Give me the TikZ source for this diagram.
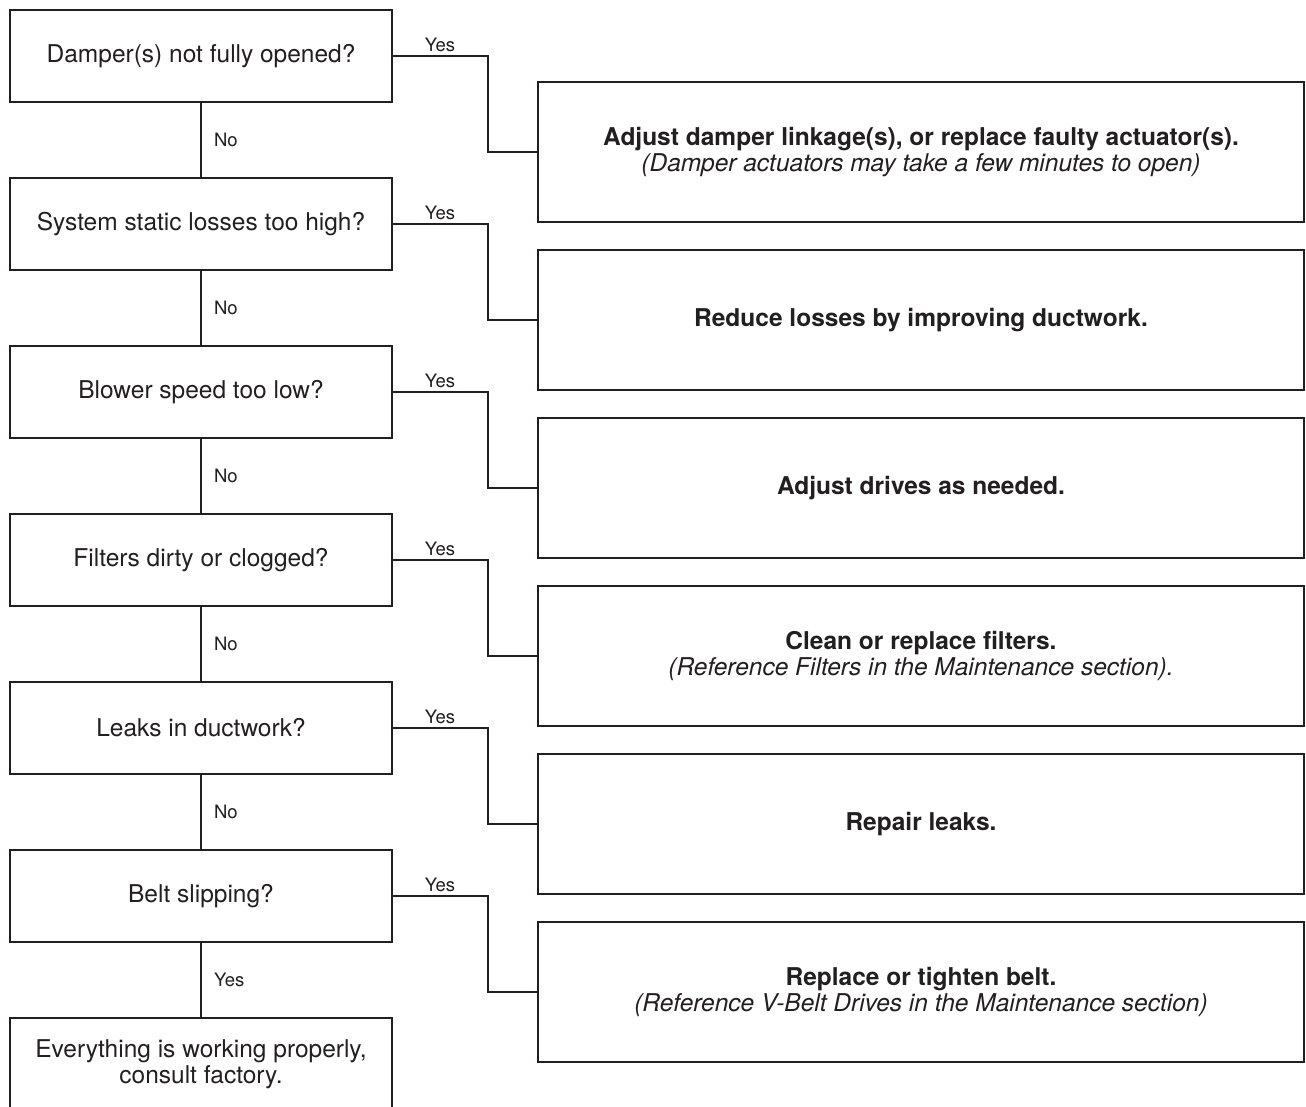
\documentclass[tikz,border=0pt]{standalone}
\usepackage{fontspec}
\setmainfont{TeX Gyre Heros}
\usepackage{tikz}
\usetikzlibrary{positioning}
\definecolor{ink}{HTML}{231F20}

\begin{document}
\begin{tikzpicture}[node distance=75.5pt, line width=2.2pt, draw=ink, text=ink,
    qbox/.style={rectangle, draw=ink, fill=white, line width=2.2pt, minimum width=382pt, minimum height=92.5pt,
      outer sep=0pt, align=center, inner sep=0pt, font=\fontsize{24.5}{26.5}\selectfont},
    abox/.style={rectangle, draw=ink, fill=white, line width=2.2pt, minimum width=766pt, minimum height=140pt,
      outer sep=0pt, align=center, inner sep=0pt, font=\fontsize{24.5}{26.5}\selectfont},
    lbl/.style={font=\fontsize{18.5}{20}\selectfont, inner sep=3pt, text=ink}]

    \useasboundingbox[fill=white] (0,0) rectangle (1306pt,-1107pt);

    % Define question nodes
    \node[qbox] (damper) at (201pt,-56pt) {Damper(s) not fully opened?};
    \node[qbox, below=of damper] (static) {System static losses too high?};
    \node[qbox, below=of static] (blower) {Blower speed too low?};
    \node[qbox, below=of blower] (filters) {Filters dirty or clogged?};
    \node[qbox, below=of filters] (leaks) {Leaks in ductwork?};
    \node[qbox, below=of leaks] (belt) {Belt slipping?};
    \node[qbox, below=of belt] (factory) {Everything is working properly,\\ consult factory.};

    % Define remedy nodes
    \node[abox, below right=26pt and 146pt of damper.east] (fixDamper)
      {\textbf{Adjust damper linkage(s), or replace faulty actuator(s).}\\ \textit{(Damper actuators may take a few minutes to open)}};
    \node[abox, below right=26pt and 146pt of static.east] (fixDuct)
      {\textbf{Reduce losses by improving ductwork.}};
    \node[abox, below right=26pt and 146pt of blower.east] (fixDrive)
      {\textbf{Adjust drives as needed.}};
    \node[abox, below right=26pt and 146pt of filters.east] (fixFilter)
      {\textbf{Clean or replace filters.}\\ \textit{(Reference Filters in the Maintenance section).}};
    \node[abox, below right=26pt and 146pt of leaks.east] (fixLeak)
      {\textbf{Repair leaks.}};
    \node[abox, below right=26pt and 146pt of belt.east] (fixBelt)
      {\textbf{Replace or tighten belt.}\\ \textit{(Reference V-Belt Drives in the Maintenance section)}};

    % No branches down the left column
    \draw (damper) -- node[lbl, right, xshift=9pt] {No} (static);
    \draw (static) -- node[lbl, right, xshift=9pt] {No} (blower);
    \draw (blower) -- node[lbl, right, xshift=9pt] {No} (filters);
    \draw (filters) -- node[lbl, right, xshift=9pt] {No} (leaks);
    \draw (leaks) -- node[lbl, right, xshift=9pt] {No} (belt);
    \draw (belt) -- node[lbl, right, xshift=9pt] {Yes} (factory);

    % Yes branches to the remedies
    \draw (damper.east) -- node[lbl, above] {Yes} ++(96pt,0) |- (fixDamper.west);
    \draw (static.east) -- node[lbl, above] {Yes} ++(96pt,0) |- (fixDuct.west);
    \draw (blower.east) -- node[lbl, above] {Yes} ++(96pt,0) |- (fixDrive.west);
    \draw (filters.east) -- node[lbl, above] {Yes} ++(96pt,0) |- (fixFilter.west);
    \draw (leaks.east) -- node[lbl, above] {Yes} ++(96pt,0) |- (fixLeak.west);
    \draw (belt.east) -- node[lbl, above] {Yes} ++(96pt,0) |- (fixBelt.west);
\end{tikzpicture}
\end{document}
